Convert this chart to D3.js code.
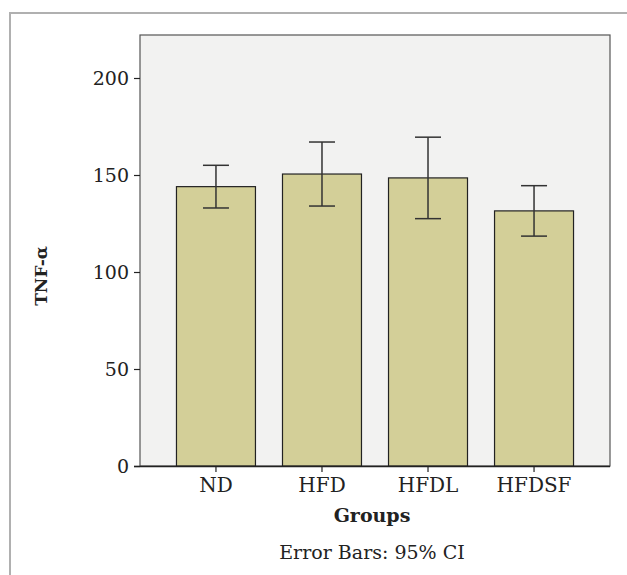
<!DOCTYPE html>
<html><head><meta charset="utf-8">
<script src="https://cdn.jsdelivr.net/npm/d3@7"></script>
<style>body{margin:0;background:#fff}svg{display:block}</style>
</head><body>
<script>
const categories = ["ND","HFD","HFDL","HFDSF"];
const means = [144, 150.5, 148.5, 131.5];
const ciLow = [133, 134, 127.5, 118.5];
const ciHigh = [155, 167, 169.5, 144.5];
const yTicks = [0,50,100,150,200];

const W=627,H=575;
const svg=d3.select("body").append("svg").attr("width",W).attr("height",H);
const font="'DejaVu Serif', serif";
svg.append("path").attr("d",`M10,${H} L10,13 L${W},13`).attr("fill","none").attr("stroke","#b0b0b0").attr("stroke-width",2);

const x0=140,x1=610,yTop=35,yBot=466;
const y=d3.scaleLinear().domain([0,200]).range([yBot,78]);
const x=d3.scaleBand().domain(categories).range([x0,x1]).paddingInner(0.255).paddingOuter(0.344);

svg.append("rect").attr("x",x0).attr("y",yTop).attr("width",x1-x0).attr("height",yBot-yTop)
  .attr("fill","#f2f2f1").attr("stroke","#555").attr("stroke-width",1.2);

svg.selectAll(".bar").data(categories).enter().append("rect")
  .attr("x",d=>x(d)).attr("width",x.bandwidth())
  .attr("y",(d,i)=>y(means[i])).attr("height",(d,i)=>yBot-y(means[i]))
  .attr("fill","#d3cf98").attr("stroke","#222").attr("stroke-width",1.2);

const cap=13;
const eb=svg.selectAll(".eb").data(categories).enter().append("g").attr("stroke","#333").attr("stroke-width",1.5);
eb.append("line").attr("x1",d=>x(d)+x.bandwidth()/2).attr("x2",d=>x(d)+x.bandwidth()/2)
  .attr("y1",(d,i)=>y(ciLow[i])).attr("y2",(d,i)=>y(ciHigh[i]));
eb.append("line").attr("x1",d=>x(d)+x.bandwidth()/2-cap).attr("x2",d=>x(d)+x.bandwidth()/2+cap)
  .attr("y1",(d,i)=>y(ciHigh[i])).attr("y2",(d,i)=>y(ciHigh[i]));
eb.append("line").attr("x1",d=>x(d)+x.bandwidth()/2-cap).attr("x2",d=>x(d)+x.bandwidth()/2+cap)
  .attr("y1",(d,i)=>y(ciLow[i])).attr("y2",(d,i)=>y(ciLow[i]));

const ya=svg.append("g").attr("transform",`translate(${x0},0)`)
  .call(d3.axisLeft(y).tickValues(yTicks).tickSize(6).tickPadding(5).tickFormat(d3.format("d")));
ya.select(".domain").remove();
ya.selectAll("line").attr("stroke","#222").attr("stroke-width",1.2);
ya.selectAll("text").attr("font-family",font).attr("font-size",19).attr("fill","#222");

const xa=svg.append("g").attr("transform",`translate(0,${yBot})`)
  .call(d3.axisBottom(x).tickSize(6).tickPadding(6).tickSizeOuter(0));
xa.select(".domain").attr("d",`M${x0-6},0.5H${x1}`).attr("stroke","#222").attr("stroke-width",1.4);
xa.selectAll("line").attr("stroke","#222").attr("stroke-width",1.2);
xa.selectAll("text").attr("font-family",font).attr("font-size",20).attr("fill","#222");

svg.append("text").attr("x",372).attr("y",522).attr("text-anchor","middle")
  .attr("font-family",font).attr("font-weight","bold").attr("font-size",19).attr("fill","#222").text("Groups");
svg.append("text").attr("transform","translate(47,276) rotate(-90)").attr("text-anchor","middle")
  .attr("font-family",font).attr("font-weight","bold").attr("font-size",17).attr("fill","#222").text("TNF-α");
svg.append("text").attr("x",372).attr("y",559).attr("text-anchor","middle")
  .attr("font-family",font).attr("font-size",19).attr("fill","#222").text("Error Bars: 95% CI");
</script>
</body></html>
